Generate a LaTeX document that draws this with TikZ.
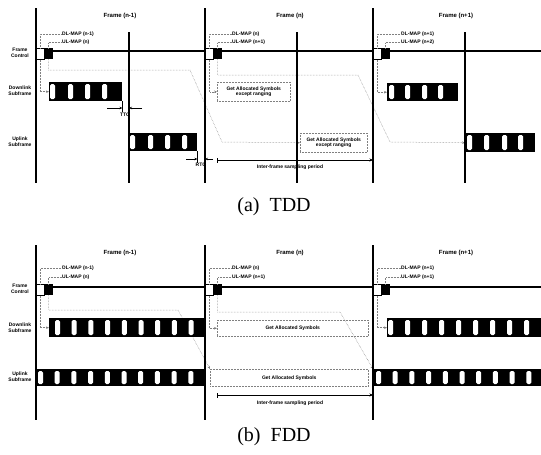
\documentclass[tikz,border=0pt]{standalone}
\usepackage{fontspec}
\setmainfont{Liberation Serif}
\newfontfamily\diagfont{Liberation Sans}
\usetikzlibrary{arrows.meta,calc,backgrounds}
\newcommand{\lblfont}{\diagfont\bfseries\fontsize{5}{5.8}\selectfont}

\begin{document}
\begin{tikzpicture}[x=1pt,y=-1pt,
    every node/.style={inner sep=0pt},
    lbl/.style={font=\lblfont,align=center},
    ttl/.style={font=\diagfont\bfseries\fontsize{6}{7}\selectfont},
    map/.style={font=\lblfont,anchor=west},
    frm/.style={line width=1.1pt},
    sub/.style={fill=black,anchor=north west},
    stripe/.style={fill=white,rounded corners=1.5pt},
    fcw/.style={draw,fill=white,line width=0.6pt,anchor=north west,minimum width=8pt,minimum height=11pt},
    fcb/.style={fill=black,anchor=north west,minimum width=9pt,minimum height=11pt},
    lead/.style={densely dotted,black!50,line width=0.5pt},
    tip/.style={-{Stealth[length=3pt,width=2.5pt]}},
    getbox/.style={draw=black!50,densely dotted,line width=0.5pt,font=\lblfont,align=center,anchor=north west},
    dim/.style={line width=0.6pt,-{Stealth[length=3pt,width=2.5pt]}},
    span/.style={line width=0.6pt,{Bar[width=5pt]}-{Stealth[length=3.5pt,width=3pt]}},
    figcap/.style={font=\fontsize{20}{24}\selectfont}]
  \useasboundingbox (0,0) rectangle (541,455);

  % ---------------- (a) TDD ----------------
  \foreach \fx in {36,205,373} \draw[frm] (\fx,8) -- (\fx,183);
  \foreach \fx in {129,297,465} \draw[frm] (\fx,32) -- (\fx,183);
  \draw[frm] (36,51) -- (541,51);

  \node[ttl] (t1) at (120,16) {Frame (n-1)};
  \node[ttl] (t2) at (290,16) {Frame (n)};
  \node[ttl] (t3) at (456,16) {Frame (n+1)};

  \node[lbl] (lfc1) at (20,53) {Frame\\Control};
  \node[lbl] (ldl1) at (20,91) {Downlink\\Subframe};
  \node[lbl] (lul1) at (20,142) {Uplink\\Subframe};

  \node[fcw] (fc1w) at (36,48) {};  \node[fcb] (fc1b) at (44,48) {};
  \node[fcw] (fc2w) at (205,48) {}; \node[fcb] (fc2b) at (213,48) {};
  \node[fcw] (fc3w) at (373,48) {}; \node[fcb] (fc3b) at (381,48) {};

  \node[map] (dm1) at (62,34) {DL-MAP (n-1)};
  \node[map] (um1) at (62,42) {UL-MAP (n)};
  \node[map] (dm2) at (232,34) {DL-MAP (n)};
  \node[map] (um2) at (232,42) {UL-MAP (n+1)};
  \node[map] (dm3) at (401,34) {DL-MAP (n+1)};
  \node[map] (um3) at (401,42) {UL-MAP (n+2)};
  \draw[lead] (fc1w.north) |- (dm1);  \draw[lead] (fc1b.north) |- (um1);
  \draw[lead] (fc2w.north) |- (dm2);  \draw[lead] (fc2b.north) |- (um2);
  \draw[lead] (fc3w.north) |- (dm3);  \draw[lead] (fc3b.north) |- (um3);

  \node[getbox,minimum width=73pt,minimum height=19pt] (gb1) at (217,82) {Get Allocated Symbols\\except ranging};
  \node[getbox,minimum width=67pt,minimum height=19pt] (gb2) at (300,133) {Get Allocated Symbols\\except ranging};

  % subframes
  \node[sub,minimum width=73pt,minimum height=19pt] (dl1) at (49,82) {};
  \foreach \s in {50,68,85,102} \fill[stripe] (\s,84) rectangle ++(5,15);
  \node[sub,minimum width=68pt,minimum height=18pt] (ul1) at (129,133) {};
  \foreach \s in {130,148,165,182} \fill[stripe] (\s,135) rectangle ++(5,14);
  \node[sub,minimum width=71pt,minimum height=18pt] (dl3) at (387,83) {};
  \foreach \s in {389,405,422,438} \fill[stripe] (\s,85) rectangle ++(5,14);
  \node[sub,minimum width=70pt,minimum height=19pt] (ul3) at (465,133) {};
  \foreach \s in {467,484,502,518} \fill[stripe] (\s,135) rectangle ++(5,15);

  \coordinate (b1) at (190,70);  \coordinate (b2) at (222,142);
  \coordinate (b3) at (358,75);  \coordinate (b4) at (390,142);
  \begin{scope}[on background layer]
    \draw[lead,tip] (fc1w.south) |- (dl1.west);
    \draw[lead,tip] (fc1b.south) |- (b1) -- (b2) -- (gb2.west);
    \draw[lead,tip] (fc2w.south) |- (gb1.west);
    \draw[lead,tip] (fc2b.south) |- (b3) -- (b4) -- (ul3.west);
    \draw[lead,tip] (fc3w.south) |- (dl3.west);
  \end{scope}

  % transition gaps
  \coordinate (ttgA) at (107,108); \coordinate (ttgB) at (dl1.south east |- ttgA);
  \coordinate (ttgC) at (142,108); \coordinate (ttgD) at (129,108);
  \draw[line width=0.6pt] (dl1.south east) -- ++(0,11);
  \draw[dim] (ttgA) -- (ttgB); \draw[dim] (ttgC) -- (ttgD);
  \node[lbl] (ttg) at (125,115) {TTG};
  \coordinate (rtgA) at (186,159); \coordinate (rtgB) at (ul1.south east |- rtgA);
  \coordinate (rtgC) at (213,159); \coordinate (rtgD) at (205,159);
  \draw[line width=0.6pt] (ul1.south east) -- ++(0,12);
  \draw[dim] (rtgA) -- (rtgB); \draw[dim] (rtgC) -- (rtgD);
  \node[lbl] (rtg) at (201,165) {RTG};

  \coordinate (isA) at (217,160); \coordinate (isB) at (373,160);
  \draw[span] (isA) -- (isB);
  \node[lbl] (isl) at (290,167) {Inter-frame sampling period};

  \node[figcap] (capa) at (274,207) {(a)\enspace TDD};

  % ---------------- (b) FDD ----------------
  \foreach \fx in {36,205,373} \draw[frm] (\fx,245) -- (\fx,420);
  \draw[frm] (36,287) -- (541,287);

  \node[ttl] (t4) at (120,253) {Frame (n-1)};
  \node[ttl] (t5) at (290,253) {Frame (n)};
  \node[ttl] (t6) at (456,253) {Frame (n+1)};

  \node[lbl] (lfc4) at (20,289) {Frame\\Control};
  \node[lbl] (ldl4) at (20,328) {Downlink\\Subframe};
  \node[lbl] (lul4) at (20,377) {Uplink\\Subframe};

  \node[fcw] (fc4w) at (36,284) {};  \node[fcb] (fc4b) at (44,284) {};
  \node[fcw] (fc5w) at (205,284) {}; \node[fcb] (fc5b) at (213,284) {};
  \node[fcw] (fc6w) at (373,284) {}; \node[fcb] (fc6b) at (381,284) {};

  \node[map] (dm4) at (62,268) {DL-MAP (n-1)};
  \node[map] (um4) at (62,277) {UL-MAP (n)};
  \node[map] (dm5) at (232,268) {DL-MAP (n)};
  \node[map] (um5) at (232,277) {UL-MAP (n+1)};
  \node[map] (dm6) at (401,268) {DL-MAP (n+1)};
  \node[map] (um6) at (401,277) {UL-MAP (n+1)};
  \draw[lead] (fc4w.north) |- (dm4);  \draw[lead] (fc4b.north) |- (um4);
  \draw[lead] (fc5w.north) |- (dm5);  \draw[lead] (fc5b.north) |- (um5);
  \draw[lead] (fc6w.north) |- (dm6);  \draw[lead] (fc6b.north) |- (um6);

  \node[getbox,minimum width=151pt,minimum height=16pt] (gb3) at (217,320) {Get Allocated Symbols};
  \node[getbox,minimum width=158pt,minimum height=17pt] (gb4) at (210,369) {Get Allocated Symbols};

  % subframes
  \node[sub,minimum width=156pt,minimum height=19pt] (dl4) at (49,318) {};
  \foreach \i in {0,...,8} \fill[stripe] ({55+16.7*\i},320) rectangle ++(5,15);
  \node[sub,minimum width=169pt,minimum height=17pt] (ul4) at (36,369) {};
  \foreach \i in {0,...,9} \fill[stripe] ({38+16.7*\i},371) rectangle ++(5,13);
  \node[sub,minimum width=154pt,minimum height=19pt] (dl6) at (387,318) {};
  \foreach \i in {0,...,8} \fill[stripe] ({388+17*\i},320) rectangle ++(5,15);
  \node[sub,minimum width=168pt,minimum height=17pt] (ul6) at (373,369) {};
  \foreach \i in {0,...,9} \fill[stripe] ({376+16.7*\i},371) rectangle ++(5,13);

  \coordinate (c5) at (178,310); \coordinate (c6) at (340,312);
  \begin{scope}[on background layer]
    \draw[lead,tip] (fc4w.south) |- (dl4.west);
    \draw[lead,tip] (fc4b.south) |- (c5) -- (gb4.north west);
    \draw[lead,tip] (fc5w.south) |- (gb3.west);
    \draw[lead,tip] (fc5b.south) |- (c6) -- (ul6.north west);
    \draw[lead,tip] (fc6w.south) |- (dl6.west);
  \end{scope}

  \coordinate (isC) at (217,395); \coordinate (isD) at (373,395);
  \draw[span] (isC) -- (isD);
  \node[lbl] (isl2) at (290,403) {Inter-frame sampling period};

  \node[figcap] (capb) at (274,437) {(b)\enspace FDD};
\end{tikzpicture}
\end{document}
